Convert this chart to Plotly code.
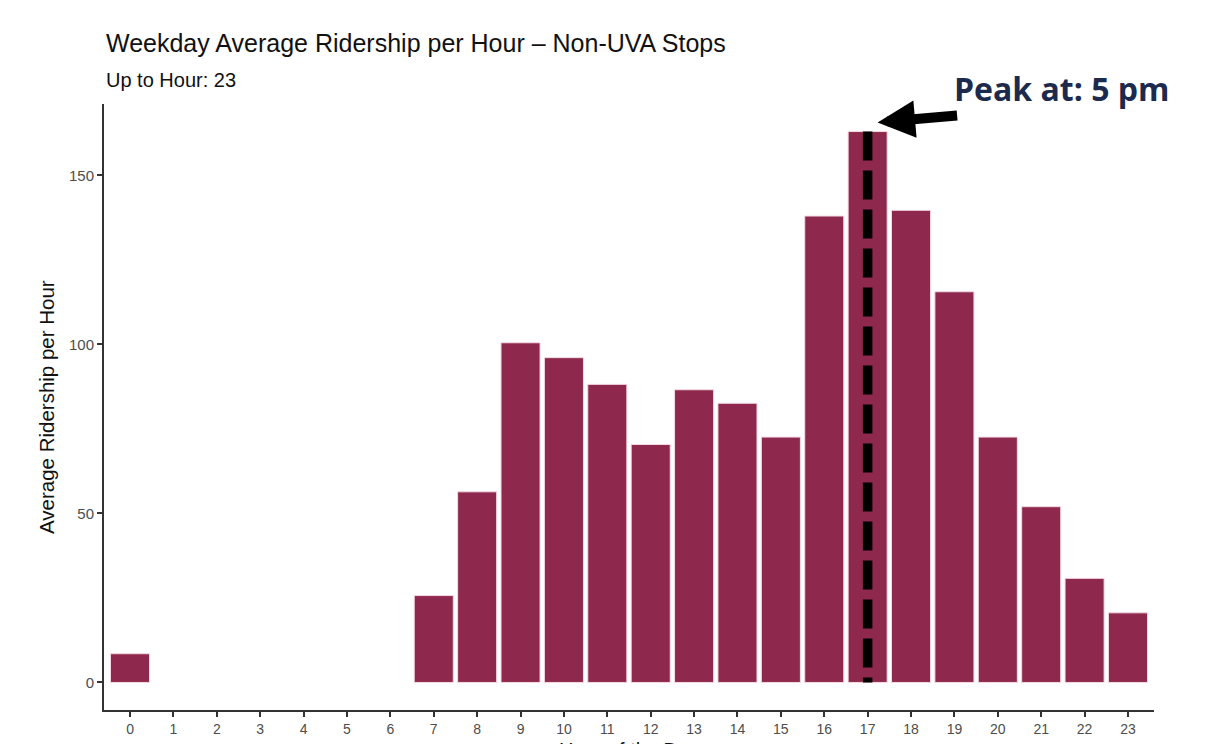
import plotly.graph_objects as go

# weekday average ridership per hour, non-UVA stops
hours = list(range(24))
hour_labels = [str(h) for h in hours]
ridership = [8.5, None, None, None, None, None, None, 25.7, 56.4, 100.5, 96.1, 88.2,
             70.4, 86.6, 82.6, 72.6, 138.0, 163.0, 139.7, 115.6, 72.6, 52.0, 30.8, 20.6]
y_ticks = [0, 50, 100, 150]

vals = [v if v is not None else 0 for v in ridership]
peak_val = max(vals)
peak_hour = hours[vals.index(peak_val)]

bar_col = "#8E284C"
grey_txt = "#4D4D4D"

fig = go.Figure()
fig.add_trace(go.Bar(
    x=hours, y=ridership, width=0.9,
    marker=dict(color=bar_col, line=dict(color="#F3D9E2", width=1)),
    showlegend=False, hoverinfo="x+y"))

# dashed marker line through the peak bar
fig.add_shape(type="line", xref="x", yref="y",
              x0=peak_hour, x1=peak_hour, y0=peak_val, y1=0,
              line=dict(color="black", width=9.5, dash="29px,10px"))

# page body has an 8px margin, margins below allow for it
fig.update_layout(
    width=1218, height=744, autosize=False,
    margin=dict(l=96, r=72, t=96, b=42),
    plot_bgcolor="white", paper_bgcolor="white",
    font=dict(family="Liberation Sans, Arial, sans-serif", color=grey_txt),
)
fig.update_xaxes(
    range=[-0.6, 23.6], tickmode="array", tickvals=hours, ticktext=hour_labels,
    showline=True, linecolor="#333333", linewidth=2,
    ticks="outside", ticklen=5, tickwidth=1.5, tickcolor="#333333",
    tickfont=dict(size=14, color=grey_txt), showgrid=False, zeroline=False,
    fixedrange=True)
fig.update_yaxes(
    range=[-8.15, 171.15], tickvals=y_ticks,
    showline=True, linecolor="#333333", linewidth=2,
    ticks="outside", ticklen=5, tickwidth=1.5, tickcolor="#333333",
    tickfont=dict(size=15, color=grey_txt), showgrid=False, zeroline=False,
    fixedrange=True)

# titles
fig.add_annotation(text="Weekday Average Ridership per Hour \u2013 Non-UVA Stops",
                   xref="paper", yref="paper", x=0, y=1.100,
                   xanchor="left", yanchor="middle", showarrow=False,
                   font=dict(size=25, color="#111111"))
fig.add_annotation(text="Up to Hour: 23",
                   xref="paper", yref="paper", x=0, y=1.040,
                   xanchor="left", yanchor="middle", showarrow=False,
                   font=dict(size=20, color="#111111"))
fig.add_annotation(text="Average Ridership per Hour", textangle=-90,
                   xref="paper", yref="paper", x=-0.0552, y=0.5,
                   xanchor="center", yanchor="middle", showarrow=False,
                   font=dict(size=20.5, color="#111111"))
fig.add_annotation(text="Hour of the Day",
                   xref="paper", yref="paper", x=0.5, y=-0.066,
                   xanchor="center", yanchor="middle", showarrow=False,
                   font=dict(size=20, color="#111111"))

# peak callout
fig.add_annotation(text="<b>Peak at: 5 pm</b>",
                   xref="paper", yref="paper", x=0.912, y=1.026,
                   xanchor="center", yanchor="middle", showarrow=False,
                   font=dict(family="Open Sans, Lato, sans-serif", size=32, color="#1C2A4E"))
fig.add_annotation(text="", x=17.23, y=165.7, xref="x", yref="y",
                   showarrow=True, ax=81, ay=-7,
                   arrowhead=2, arrowsize=0.75, arrowwidth=10, arrowcolor="black",
                   standoff=0)

fig.write_html("out.html")
